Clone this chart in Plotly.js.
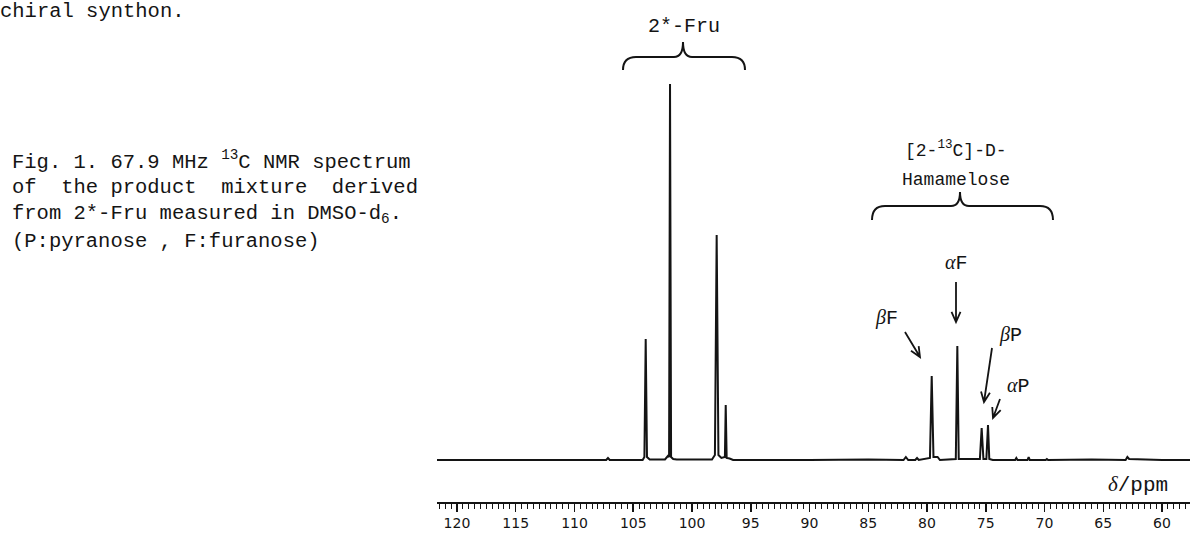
<!DOCTYPE html>
<html>
<head>
<meta charset="utf-8">
<script src="https://cdn.plot.ly/plotly-3.0.1.min.js"></script>
<style>html,body{margin:0;padding:0;background:#fff;}#chart{width:1195px;height:533px;}</style>
</head>
<body>
<div id="chart"></div>
<script>
// ---- data (chemical shift in ppm, intensity in arbitrary units) ----
const shiftPpm = [121.7, 112.0, 110.0, 107.3, 107.15, 107.0, 104.2, 104.05, 103.94, 103.83, 103.6,
  102.3, 102.05, 101.95, 101.87, 101.78, 101.6, 101.3, 98.3, 98.05, 97.9, 97.75, 97.5, 97.2, 97.13, 97.05,
  96.8, 96.5, 90.0, 85.0, 82.0, 81.8, 81.6, 81.0, 80.85, 80.7, 79.75, 79.6, 79.45, 79.1, 78.9,
  77.55, 77.42, 77.3, 75.5, 75.35, 75.2, 74.95, 74.81, 74.7, 74.4, 72.5, 72.4, 72.3, 71.45, 71.35,
  71.25, 69.9, 69.8, 69.7, 66.0, 63.1, 62.95, 62.8, 60.0, 57.62];
const intensity = [0, 0.5, 0, 0, 2, 0, 0, 3, 121, 3, 0.5,
  0.5, 4, 3, 376, 3, 1, 0.5, 0.5, 5, 225, 5, 2, 3, 55, 2,
  1.5, 0, 0, 0.5, 0, 3, 0, 0, 2, 0, 2, 84, 3, 3, 0,
  1, 114, 1, 1, 32, 1, 1, 35, 1, 0, 0, 2, 0, 0, 3,
  0, 0, 1, 0, 0.5, 0, 3, 1, 0, 0];
const tickValues = [120, 115, 110, 105, 100, 95, 90, 85, 80, 75, 70, 65, 60];
const tickLabels = ['120', '115', '110', '105', '100', '95', '90', '85', '80', '75', '70', '65', '60'];
const captionLines = [
  'chiral synthon.',
  'Fig. 1. 67.9 MHz <sup>13</sup>C NMR spectrum',
  'of  the product  mixture  derived',
  'from 2*-Fru measured in DMSO-d<sub>6</sub>.',
  '(P:pyranose , F:furanose)'
];
const groupLabels = ['2*-Fru', '[2-<sup>13</sup>C]-D-', 'Hamamelose'];
const peakLabels = ['<i>α</i>', '<i>β</i>', '<i>β</i>', '<i>α</i>'];
const peakSuffix = ['F', 'F', 'P', 'P'];

// ---- helpers: pixel position on the 1195x533 canvas -> paper coords (margins are zero) ----
const W = 1195, H = 533;
const fx = x => x / W;
const fy = y => 1 - y / H;
const P = (x, y) => fx(x).toFixed(5) + ',' + fy(y).toFixed(5);
const INK = '#141414';

function arrowPath(x1, y1, x2, y2) {
  const a = Math.atan2(y2 - y1, x2 - x1), L = 11, s = 0.42;
  const lx = x2 - L * Math.cos(a - s), ly = y2 - L * Math.sin(a - s);
  const rx = x2 - L * Math.cos(a + s), ry = y2 - L * Math.sin(a + s);
  return 'M' + P(x1, y1) + 'L' + P(x2, y2) + 'M' + P(lx, ly) + 'L' + P(x2, y2) + 'L' + P(rx, ry);
}
function bracePath(x1, x2, xc, yEnd, yBar, yTip) {
  return 'M' + P(x1, yEnd) + 'Q' + P(x1, yBar) + ' ' + P(x1 + 13, yBar) +
    'L' + P(xc - 9, yBar) + 'Q' + P(xc, yBar) + ' ' + P(xc, yTip) +
    'Q' + P(xc, yBar) + ' ' + P(xc + 9, yBar) +
    'L' + P(x2 - 13, yBar) + 'Q' + P(x2, yBar) + ' ' + P(x2, yEnd);
}

const shapes = [
  {type: 'path', xref: 'paper', yref: 'paper', path: bracePath(623, 745, 683, 70, 57, 42), line: {color: INK, width: 2}},
  {type: 'path', xref: 'paper', yref: 'paper', path: bracePath(872, 1053, 960, 220, 206, 192), line: {color: INK, width: 2}},
  {type: 'path', xref: 'paper', yref: 'paper', path: arrowPath(956, 282, 956, 322), line: {color: INK, width: 1.8}},
  {type: 'path', xref: 'paper', yref: 'paper', path: arrowPath(905, 332, 920, 357), line: {color: INK, width: 1.8}},
  {type: 'path', xref: 'paper', yref: 'paper', path: arrowPath(992, 348, 984, 402), line: {color: INK, width: 1.8}},
  {type: 'path', xref: 'paper', yref: 'paper', path: arrowPath(1000, 399, 993, 418), line: {color: INK, width: 1.8}}
];

const mono = 'Liberation Mono, Courier New, monospace';
function txt(text, x, y, size, anchor) {
  return {text: text, xref: 'paper', yref: 'paper', x: fx(x), y: fy(y), xanchor: anchor || 'left', yanchor: 'middle',
    showarrow: false, font: {family: mono, size: size, color: INK}};
}
const greek = s => '<span style="font-family:Liberation Serif">' + s + '</span>';
const annotations = [
  txt(captionLines[0], -2, 11, 20.5),
  txt(captionLines[1], 10, 160, 20.5),
  txt(captionLines[2], 10, 187, 20.5),
  txt(captionLines[3], 10, 214, 20.5),
  txt(captionLines[4], 10, 241, 20.5),
  txt(groupLabels[0], 684, 26, 20, 'center'),
  txt(groupLabels[1], 956, 150, 18, 'center'),
  txt(groupLabels[2], 956, 180, 18, 'center'),
  txt(greek(peakLabels[0]) + peakSuffix[0], 957, 263, 20, 'center'),
  txt(greek(peakLabels[1]) + peakSuffix[1], 886, 318, 20, 'center'),
  txt(greek(peakLabels[2]) + peakSuffix[2], 1010, 335, 20, 'center'),
  txt(greek(peakLabels[3]) + peakSuffix[3], 1018, 386, 20, 'center'),
  txt(greek('<i>δ</i>') + '/ppm', 1138, 484, 21, 'center')
];

const trace = {x: shiftPpm, y: intensity, type: 'scatter', mode: 'lines',
  line: {color: INK, width: 2}, hoverinfo: 'skip'};

const layout = {
  width: W, height: H,
  margin: {l: 0, r: 0, t: 0, b: 0},
  paper_bgcolor: '#fff', plot_bgcolor: '#fff',
  showlegend: false,
  xaxis: {
    domain: [437 / W, 1190 / W], range: [121.7, 57.62],
    showline: true, linecolor: INK, linewidth: 1.5, mirror: false,
    ticks: 'outside', ticklen: 8, tickwidth: 1.5, tickcolor: INK,
    tickmode: 'array', tickvals: tickValues, ticktext: tickLabels,
    tickfont: {family: 'DejaVu Sans, sans-serif', size: 14, color: INK},
    showgrid: false, zeroline: false, automargin: false, fixedrange: true,
    minor: {dtick: 0.5, tick0: 0, ticklen: 5, tickwidth: 1, tickcolor: INK, ticks: 'outside', showgrid: false}
  },
  yaxis: {domain: [31 / H, 473 / H], range: [-42, 400], visible: false, fixedrange: true, automargin: false},
  shapes: shapes,
  annotations: annotations
};

Plotly.newPlot('chart', [trace], layout, {displayModeBar: false, staticPlot: true});
</script>
</body>
</html>
